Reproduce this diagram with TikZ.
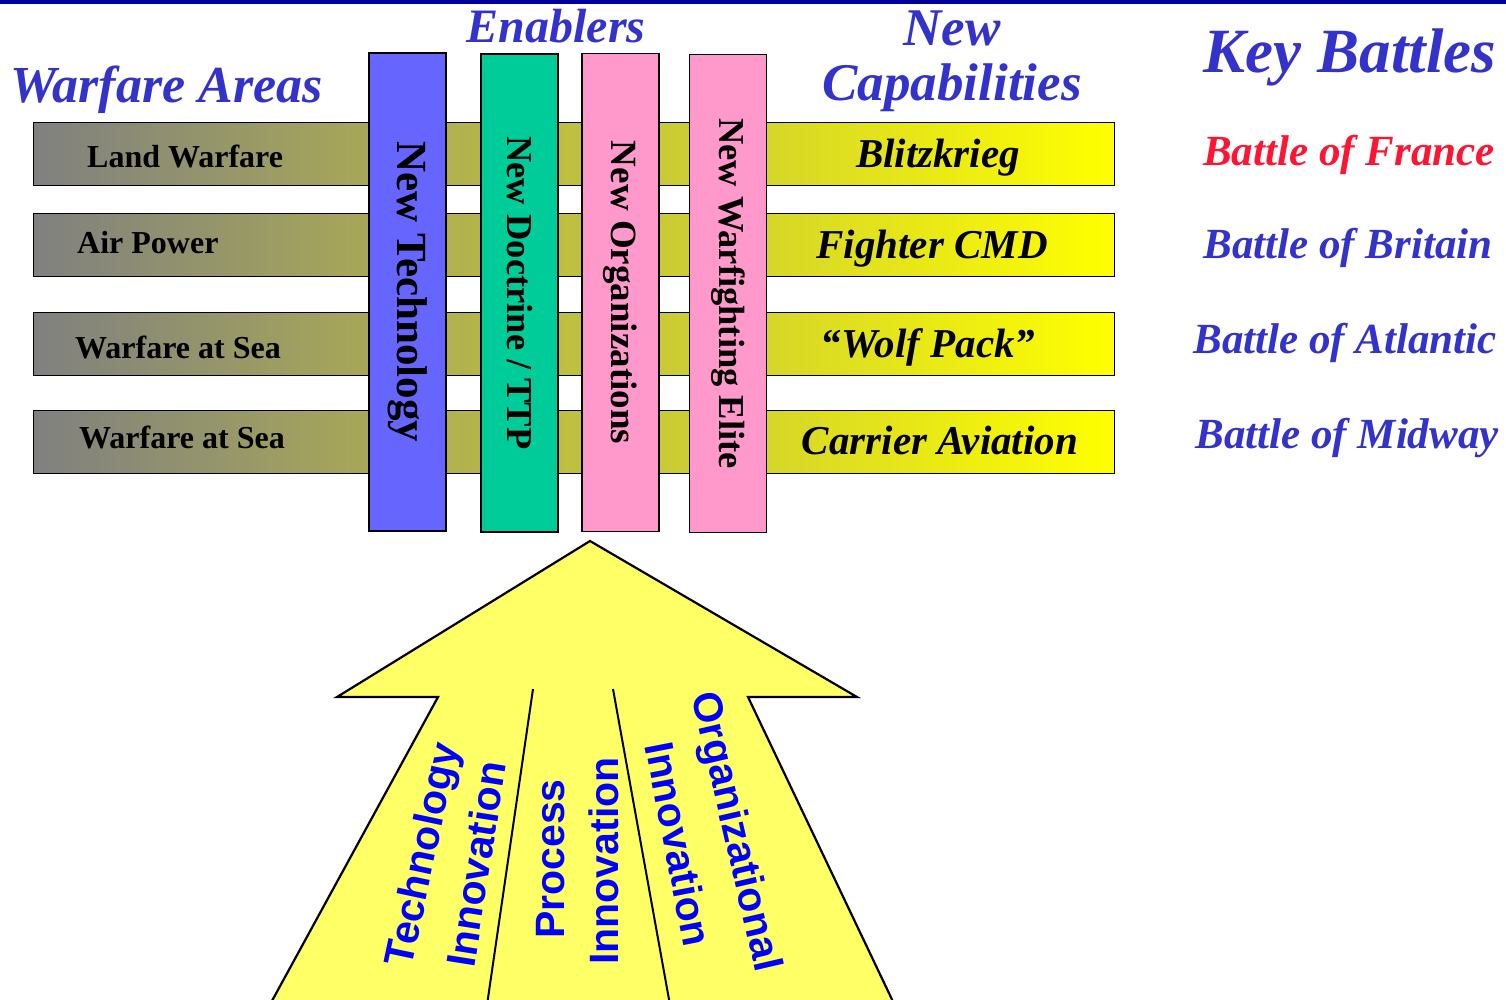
\documentclass[tikz,border=0pt]{standalone}
\usepackage{fontspec}
\setmainfont{Liberation Serif}
\newfontfamily\arialfont{Liberation Sans}
\definecolor{topline}{RGB}{0,0,153}
\definecolor{titleblue}{RGB}{51,51,204}
\definecolor{battlered}{RGB}{255,20,50}
\definecolor{bargray}{RGB}{128,128,128}
\definecolor{baryellow}{RGB}{255,255,0}
\definecolor{vblue}{RGB}{102,102,255}
\definecolor{vgreen}{RGB}{0,204,153}
\definecolor{vpink}{RGB}{255,153,204}
\definecolor{arrowfill}{RGB}{255,255,102}
\definecolor{arrowtextblue}{RGB}{0,0,255}
\begin{document}
\begin{tikzpicture}[x=1pt,y=-1pt,
  hbar/.style={draw=black, line width=1.3pt, left color=bargray, right color=baryellow,
    minimum width=1081pt, minimum height=63pt, inner sep=0pt, anchor=north west},
  vbar/.style={draw=black, line width=1.3pt, rotate=-90, minimum width=478pt,
    minimum height=77pt, inner sep=0pt, text=black},
  rowlabel/.style={anchor=base west, inner sep=0pt, font=\fontsize{32}{38}\selectfont\bfseries},
  caplabel/.style={anchor=base, inner sep=0pt, font=\fontsize{41}{48}\selectfont\bfseries\itshape},
  headtext/.style={inner sep=0pt, text=titleblue, font=\bfseries\itshape},
  battle/.style={anchor=base, inner sep=0pt, text=titleblue, font=\fontsize{43}{50}\selectfont\bfseries\itshape},
  arrowtext/.style={inner sep=0pt, text=arrowtextblue, font=\arialfont\fontsize{41}{48}\selectfont\bfseries}
]
\clip (0,0) rectangle (1506,999);
\fill[white] (0,0) rectangle (1506,999);
\fill[topline] (0,0) rectangle (1506,4);

% headers
\node[headtext, anchor=base west, font=\fontsize{52}{60}\selectfont\bfseries\itshape] (hwa) at (10,102) {Warfare Areas};
\node[headtext, anchor=base, font=\fontsize{48}{56}\selectfont\bfseries\itshape] (hen) at (556,42) {Enablers};
\node[headtext, anchor=base, font=\fontsize{53}{60}\selectfont\bfseries\itshape] (hnc1) at (952,45) {New};
\node[headtext, anchor=base, font=\fontsize{53}{60}\selectfont\bfseries\itshape] (hnc2) at (952,100) {Capabilities};
\node[headtext, anchor=base, font=\fontsize{63}{70}\selectfont\bfseries\itshape] (hkb) at (1350,72) {Key Battles};

% horizontal bars
\node[hbar] (r1) at (33,122) {};
\node[hbar] (r2) at (33,213) {};
\node[hbar] (r3) at (33,312) {};
\node[hbar] (r4) at (33,410) {};

\node[rowlabel] (l1) at (87,167) {Land Warfare};
\node[rowlabel] (l2) at (77,253) {Air Power};
\node[rowlabel] (l3) at (75,358) {Warfare at Sea};
\node[rowlabel] (l4) at (79,448) {Warfare at Sea};

\node[caplabel] (c1) at (938,167) {Blitzkrieg};
\node[caplabel] (c2) at (932,258) {Fighter CMD};
\node[caplabel] (c3) at (928,357) {“Wolf Pack”};
\node[caplabel] (c4) at (940,454) {Carrier Aviation};

% vertical bars
\node[vbar, fill=vblue, font=\fontsize{43}{50}\selectfont\bfseries] (v1) at (407.5,292) {New Technology};
\node[vbar, fill=vgreen, font=\fontsize{36.5}{44}\selectfont\bfseries] (v2) at (519.5,293) {New Doctrine / TTP};
\node[vbar, fill=vpink, font=\fontsize{37}{44}\selectfont\bfseries] (v3) at (620.5,292.5) {New Organizations};
\node[vbar, fill=vpink, font=\fontsize{36.5}{44}\selectfont\bfseries] (v4) at (728,293.5) {New Warfighting Elite};

% key battles
\node[battle, text=battlered] (b1) at (1349,165) {Battle of France};
\node[battle] (b2) at (1348,258) {Battle of Britain};
\node[battle] (b3) at (1345,353) {Battle of Atlantic};
\node[battle] (b4) at (1347,448) {Battle of Midway};

% big arrow
\draw[fill=arrowfill, line width=2.2pt, line join=miter]
  (590,541) -- (857,697) -- (748,697) -- (897,1010) -- (267,1010) -- (438,697) -- (337,697) -- cycle;
\draw[line width=2pt] (533,689) -- (487,1005);
\draw[line width=2pt] (613,689) -- (670,1005);

\node[arrowtext, rotate=78] (a1) at (425,855) {Technology};
\node[arrowtext, rotate=81] (a2) at (476,864) {Innovation};
\node[arrowtext, rotate=90] (a3) at (551,859) {Process};
\node[arrowtext, rotate=90] (a4) at (604,861) {Innovation};
\node[arrowtext, rotate=-79] (a5) at (679,844) {Innovation};
\node[arrowtext, rotate=-77] (a6) at (734,832) {Organizational};
\end{tikzpicture}
\end{document}
